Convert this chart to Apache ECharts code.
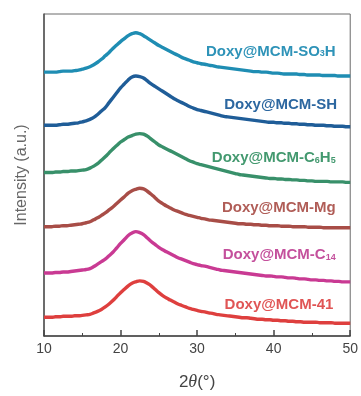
<!DOCTYPE html>
<html>
<head>
<meta charset="utf-8">
<script src="https://cdn.jsdelivr.net/npm/echarts@6/dist/echarts.min.js"></script>
<style>
  html, body { margin: 0; padding: 0; background: #fff; }
  #chart { width: 361px; height: 396px; }
</style>
</head>
<body>
<div id="chart"></div>
<script>
// 2θ positions (degrees), 0.5° steps
const twoTheta = [10,10.5,11,11.5,12,12.5,13,13.5,14,14.5,15,15.5,16,16.5,17,17.5,18,18.5,19,19.5,
                  20,20.5,21,21.5,22,22.5,23,23.5,24,24.5,25,25.5,26,26.5,27,27.5,28,28.5,29,29.5,
                  30,30.5,31,31.5,32,32.5,33,33.5,34,34.5,35,35.5,36,36.5,37,37.5,38,38.5,39,39.5,
                  40,40.5,41,41.5,42,42.5,43,43.5,44,44.5,45,45.5,46,46.5,47,47.5,48,48.5,49,49.5,50];

// Stacked XRD intensities (a.u., vertically offset for display)
const so3h = [268,268,268,268,268.5,269,269,269,269.5,270,271,272,273.5,275.5,278,281,284.5,288,292,295.5,
              299,302,305,307,308,307,305,302.5,300,297.5,295,293,291,289,287,285,283,281.5,280,278.5,
              277.5,276.5,276,275,274.5,273.5,273,272.5,272,271.5,271,270.5,270,269.5,269,268.5,268.5,268,268,267.5,
              267,267,266.5,266,266,266,266,265.5,265.5,265,265,265,265,264.5,264.5,264.5,264.5,264,264,264,264];
const sh   = [214,214,214,214,214.5,215,215,215.5,216,216.5,217.5,218.5,220,222,225,228.5,232,237,242,247,
              252,256,260,263,264,263.5,262,259,256,253.5,251,248.5,246,243.5,241,239,237,235,233,231.5,
              230,229,228,227,226,225,224,223,222.5,222,221.5,221,220.5,220,219.5,219,218.5,218,217.5,217,
              217,216.5,216.5,216,216,215.5,215.5,215,215,214.5,214.5,214,214,214,213.5,213.5,213,213,213,212.5,212.5];
const c6h5 = [166,166,166,166.5,166.5,167,167,167.5,167.5,168,168.5,169,170.5,172.5,175,178.5,182,186,190,193.5,
              197,199.5,202,203.5,205,205.5,205,203,200,197,194,192,190,188,186,184,182,180,178,176.5,
              175,174,173,172,171,170,169,168,167,166,165,164,163.5,163,162.5,162,161.5,161,160.5,160,
              160,159.5,159.5,159,159,158.5,158.5,158,158,157.5,157.5,157,157,157,157,156.5,156.5,156.5,156.5,156,156];
const mg   = [111,111,111,111.5,111.5,112,112,112.5,113,113.5,114,115,116,118,120,122.5,125,128,131,134.5,
              138,141.5,145,147.5,149,150,149.5,147,144,140.5,137,134.5,132,130,128,126.5,125,123.5,122.5,121.5,
              120.5,119.5,119,118,117.5,117,116.5,116,115.5,115,114.5,114,114,113.5,113.5,113,113,112.5,112.5,112,
              112,112,111.5,111.5,111.5,111,111,111,111,110.5,110.5,110.5,110.5,110,110,110,110,110,110,110,110];
const c14  = [64,64,64,64.5,64.5,65,65,65.5,66,66.5,67,67.5,68.5,70.5,73,75.5,78,81.5,85,89.5,
              94,98,102,104.5,106,105,103,99.5,96,93,90,87.5,85.5,83.5,81.5,79.5,78,76.5,75,73.5,
              72.5,71.5,71,70,69,68,67,66.5,66,65.5,65,64.5,64,63.5,63,62.5,62,61.5,61,61,
              60.5,60,60,59.5,59,59,58.5,58,58,57.5,57,57,56.5,56.5,56,56,55.5,55.5,55,55,55];
const mcm41 = [19,19,19,19.5,19.5,20,20,20,20.5,20.5,21,21.5,22,23.5,25,27,29.5,32.5,36,40,
               44,47.5,51,53.5,55,56,55.5,53.5,51,47.5,44,41,38.5,36.5,34.5,32.5,31,29.5,28,27,
               26,25,24.5,23.5,23,22,21.5,21,20.5,20,19.5,19,18.5,18.5,18,17.5,17,17,16.5,16.5,
               16,16,15.5,15.5,15,15,14.5,14.5,14,14,14,14,13.5,13.5,13.5,13.5,13,13,13,13,13];

// Sample names (rich-text markup for subscripts) and where each name sits
const sampleNames = ['Doxy@MCM-SO{s|3}H', 'Doxy@MCM-SH', 'Doxy@MCM-C{s|6}H{s|5}',
                     'Doxy@MCM-Mg', 'Doxy@MCM-C{s|14}', 'Doxy@MCM-41'];
const nameAnchorX = [48.1, 48.3, 48.1, 48.1, 48.1, 47.8];
const nameAnchorY = [289, 235, 181, 130, 82, 32];

const lineColors  = ['#1f8db3', '#1f5d98', '#38906a', '#a84d47', '#c93a93', '#de3f3e'];
const labelColors = ['#2e93b8', '#2c67a0', '#43996f', '#b05d57', '#c4509c', '#e05555'];

const xTicks = [10, 20, 30, 40, 50];

const seriesData = [so3h, sh, c6h5, mg, c14, mcm41];

const chart = echarts.init(document.getElementById('chart'), null, { renderer: 'canvas' });

const series = seriesData.map((vals, i) => ({
  type: 'line',
  data: twoTheta.map((t, k) => [t, vals[k]]),
  showSymbol: false,
  smooth: 0.4,
  lineStyle: { color: lineColors[i], width: 3.4, join: 'round' },
  z: 2,
  markPoint: {
    symbol: 'circle',
    symbolSize: 0,
    silent: true,
    data: [{ coord: [nameAnchorX[i], nameAnchorY[i]] }],
    label: {
      show: true,
      position: 'inside',
      align: 'right',
      verticalAlign: 'middle',
      formatter: sampleNames[i],
      color: labelColors[i],
      fontFamily: 'Liberation Sans, Arial, sans-serif',
      fontWeight: 'bold',
      fontSize: 15,
      rich: {
        s: { fontSize: 9, fontWeight: 'bold', color: labelColors[i],
             fontFamily: 'Liberation Sans, Arial, sans-serif', padding: [5, 0, 0, 0] }
      }
    }
  }
}));

chart.setOption({
  animation: false,
  backgroundColor: '#ffffff',
  grid: {
    left: 44, right: 10, top: 14, bottom: 55,
    show: true, borderColor: '#6a6a6a', borderWidth: 1, containLabel: false
  },
  xAxis: {
    type: 'value',
    min: 10, max: 50, interval: 10,
    name: '2{i|θ}(°)',
    nameLocation: 'middle',
    nameGap: 37,
    nameTextStyle: {
      fontSize: 17, color: '#444', fontFamily: 'Liberation Sans, Arial, sans-serif',
      rich: { i: { fontStyle: 'italic', fontFamily: 'Liberation Serif, serif', fontSize: 18, color: '#444' } }
    },
    axisLine: { show: true, lineStyle: { color: '#444', width: 1.5 } },
    axisTick: { show: true, inside: true, length: 6, lineStyle: { color: '#444', width: 1.5 } },
    minorTick: { show: true, splitNumber: 2, length: 3, lineStyle: { color: '#444', width: 1 } },
    axisLabel: {
      show: true, margin: 6, fontSize: 14, color: '#444',
      fontFamily: 'Liberation Sans, Arial, sans-serif',
      formatter: v => (xTicks.indexOf(v) >= 0 ? String(v) : '')
    },
    splitLine: { show: false }
  },
  yAxis: {
    type: 'value',
    min: 0, max: 327,
    name: 'Intensity (a.u.)',
    nameLocation: 'middle',
    nameGap: 14,
    nameTextStyle: { fontSize: 16, color: '#666', fontFamily: 'Liberation Sans, Arial, sans-serif' },
    axisLine: { show: true, lineStyle: { color: '#555', width: 1.5 } },
    axisTick: { show: false },
    axisLabel: { show: false },
    splitLine: { show: false }
  },
  series: series
});
</script>
</body>
</html>
